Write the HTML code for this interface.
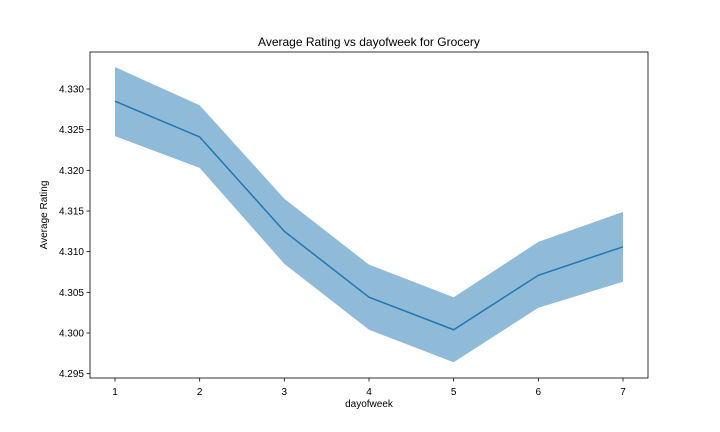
<!DOCTYPE html>
<html><head><meta charset="utf-8"><style>
body{margin:0;background:#fff;}
svg{display:block;font-family:"Liberation Sans","DejaVu Sans",sans-serif;}
</style></head><body>
<svg id="chart" width="720" height="432"></svg>
<script>
const categories = [1,2,3,4,5,6,7];
const meanValues = [4.3285,4.3241,4.3125,4.3044,4.3004,4.3071,4.3106];
const upperValues = [4.3327,4.3280,4.3165,4.3084,4.3044,4.3112,4.3149];
const lowerValues = [4.3242,4.3203,4.3085,4.3004,4.2964,4.3031,4.3063];
const yTicks = [4.295,4.300,4.305,4.310,4.315,4.320,4.325,4.330];
const yTickLabels = ["4.295","4.300","4.305","4.310","4.315","4.320","4.325","4.330"];

const NS="http://www.w3.org/2000/svg";
const svg=document.getElementById('chart');
const L=90,R=648,T=52,B=378;
const xs=v=>115+(v-1)*(623-115)/6;
const ys=v=>333-(v-4.300)*(333-89)/0.030;
function mk(tag,attrs,parent){const e=document.createElementNS(NS,tag);for(const k in attrs)e.setAttribute(k,attrs[k]);(parent||svg).appendChild(e);return e;}

let d='M'+categories.map((c,i)=>xs(c)+','+ys(upperValues[i])).join('L');
d+='L'+categories.slice().reverse().map((c,j)=>{const i=categories.length-1-j;return xs(c)+','+ys(lowerValues[i]);}).join('L')+'Z';
const band=mk('path',{d:d,fill:'#1f77b4','fill-opacity':0.5,stroke:'none'});



const line=mk('polyline',{points:categories.map((c,i)=>xs(c)+','+ys(meanValues[i])).join(' '),fill:'none',stroke:'#1f77b4','stroke-width':1.5});



const frame=mk('rect',{x:L,y:T,width:R-L,height:B-T,fill:'none',stroke:'#000','stroke-width':0.8});



categories.forEach(c=>{
  mk('line',{x1:xs(c),x2:xs(c),y1:B,y2:B+3.5,stroke:'#000','stroke-width':0.8});
  const t=mk('text',{x:xs(c),y:B+17,'text-anchor':'middle','font-size':10});
  t.textContent=c;
  
  
});
yTicks.forEach((v,i)=>{
  mk('line',{x1:L-3.5,x2:L,y1:ys(v),y2:ys(v),stroke:'#000','stroke-width':0.8});
  const t=mk('text',{x:L-6,y:ys(v)+3.5,'text-anchor':'end','font-size':10});
  t.textContent=yTickLabels[i];
  
  
});
const title=mk('text',{x:(L+R)/2,y:46,'text-anchor':'middle','font-size':12});
title.textContent='Average Rating vs dayofweek for Grocery';


const xt=mk('text',{x:(L+R)/2,y:407,'text-anchor':'middle','font-size':10});
xt.textContent='dayofweek';


const yt=mk('text',{x:0,y:0,'text-anchor':'middle','font-size':10,transform:'translate(47,215) rotate(-90)'});
yt.textContent='Average Rating';


</script>
</body></html>
